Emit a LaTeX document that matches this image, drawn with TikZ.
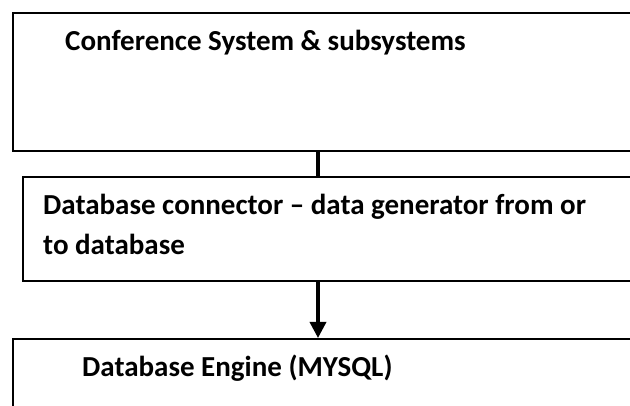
\documentclass[tikz,border=0pt]{standalone}
\usepackage{fontspec}
\setmainfont{Carlito}
\usetikzlibrary{arrows.meta, positioning}

\tikzset{
  layer/.style={draw, line width=2pt, minimum width=680pt, anchor=north west, inner sep=0pt},
  layertext/.style={anchor=base west, inner sep=0pt, align=left,
    font=\fontsize{29}{40}\selectfont\bfseries},
  link/.style={line width=3.4pt}
}

\begin{document}
\begin{tikzpicture}[x=1pt,y=-1pt]
  \useasboundingbox (0,0) rectangle (630,406);
  \clip (0,0) rectangle (630,406);

  % the three layers, cut off on the right
  \node[layer, minimum height=138pt] (sys) at (12,12) {};
  \node[layer, minimum height=104pt] (conn) at (22,176) {};
  \node[layer, minimum height=100pt] (eng) at (12,338) {};

  \node[layertext] (systext) at (65,51) {Conference System \& subsystems};
  % base anchor sits on the last line here
  \node[layertext] (conntext) at (43,255) {Database connector -- data generator from or\\to database};
  \node[layertext] (engtext) at (82,377) {Database Engine (MYSQL)};

  \coordinate (mid) at (318,0);
  \draw[link] (sys.south -| mid) -- (conn.north -| mid);
  \draw[link, -{Triangle[width=16pt,length=16pt]}] (conn.south -| mid) -- (eng.north -| mid);
\end{tikzpicture}
\end{document}
